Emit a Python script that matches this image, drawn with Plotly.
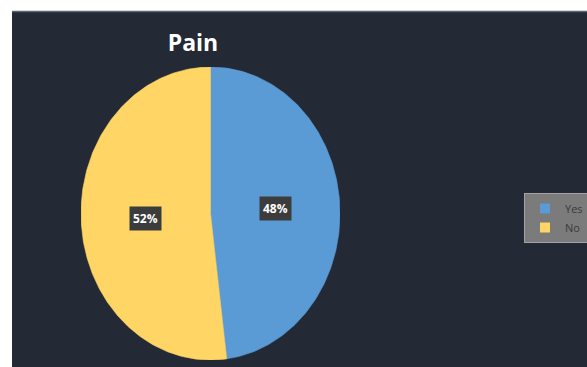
import numpy as np
import plotly.graph_objects as go

# Survey answers for "Pain"
labels = ["Yes", "No"]
shares = [48, 52]
colors = ["#5B9BD5", "#FFD566"]
title_text = "Pain"

W, H = 587, 367
BG = "#232A35"

fig = go.Figure()

# Slices as filled wedges, clockwise from 12 o'clock
total = float(sum(shares))
start = 0.0
mids = []
for lab, val, col in zip(labels, shares, colors):
    end = start + val / total * 2 * np.pi
    t = np.linspace(start, end, 200)
    xs = np.concatenate([[0], np.sin(t), [0]])
    ys = np.concatenate([[0], np.cos(t), [0]])
    fig.add_trace(go.Scatter(
        x=xs, y=ys, mode="lines", fill="toself", fillcolor=col,
        line=dict(width=0.6, color=col), hoverinfo="text",
        text=f"{lab}: {val}%", showlegend=False, legendgroup=lab,
    ))
    mids.append((start + end) / 2)
    start = end

# Legend entries with square swatches
for lab, col in zip(labels, colors):
    fig.add_trace(go.Scatter(
        x=[None], y=[None], mode="markers", name=lab, legendgroup=lab,
        marker=dict(symbol="square", size=10, color=col),
    ))

# Percentage labels at half radius along each slice's middle angle
for val, m in zip(shares, mids):
    fig.add_annotation(
        x=0.5 * np.sin(m), y=0.5 * np.cos(m), xref="x", yref="y",
        text=f"<b>{val}%</b>", showarrow=False,
        font=dict(family="Open Sans", size=12, color="white"),
        bgcolor="#3C3C3C", borderpad=3,
    )

# Dark chart area and its top edge
fig.add_shape(type="rect", xref="paper", yref="paper",
              x0=12 / W, x1=1, y0=0, y1=(H - 11) / H,
              fillcolor=BG, line=dict(width=0), layer="below")
fig.add_shape(type="line", xref="paper", yref="paper",
              x0=12 / W, x1=1, y0=(H - 11.5) / H, y1=(H - 11.5) / H,
              line=dict(color="#5E6470", width=1.5), layer="below")

fig.update_layout(
    width=W, height=H,
    margin=dict(l=0, r=0, t=0, b=0, autoexpand=False),
    paper_bgcolor="white", plot_bgcolor="rgba(0,0,0,0)",
    title=dict(text=f"<b>{title_text}</b>", x=193 / W, y=(H - 43) / H,
               xanchor="center", yanchor="middle",
               font=dict(family="Open Sans", size=23, color="white")),
    xaxis=dict(range=[-1, 1], domain=[81 / W, 340 / W], visible=False,
               fixedrange=True),
    yaxis=dict(range=[-1, 1], domain=[(H - 360) / H, (H - 67) / H],
               visible=False, fixedrange=True),
    legend=dict(x=524 / W, y=(H - 193) / H, xanchor="left", yanchor="top",
                bgcolor="#7B7B7B", bordercolor="#A3A3A3", borderwidth=1,
                font=dict(family="Open Sans", size=11, color="#3A3A3A"),
                tracegroupgap=0, itemwidth=30),
    showlegend=True,
)

fig.write_html("out.html")
